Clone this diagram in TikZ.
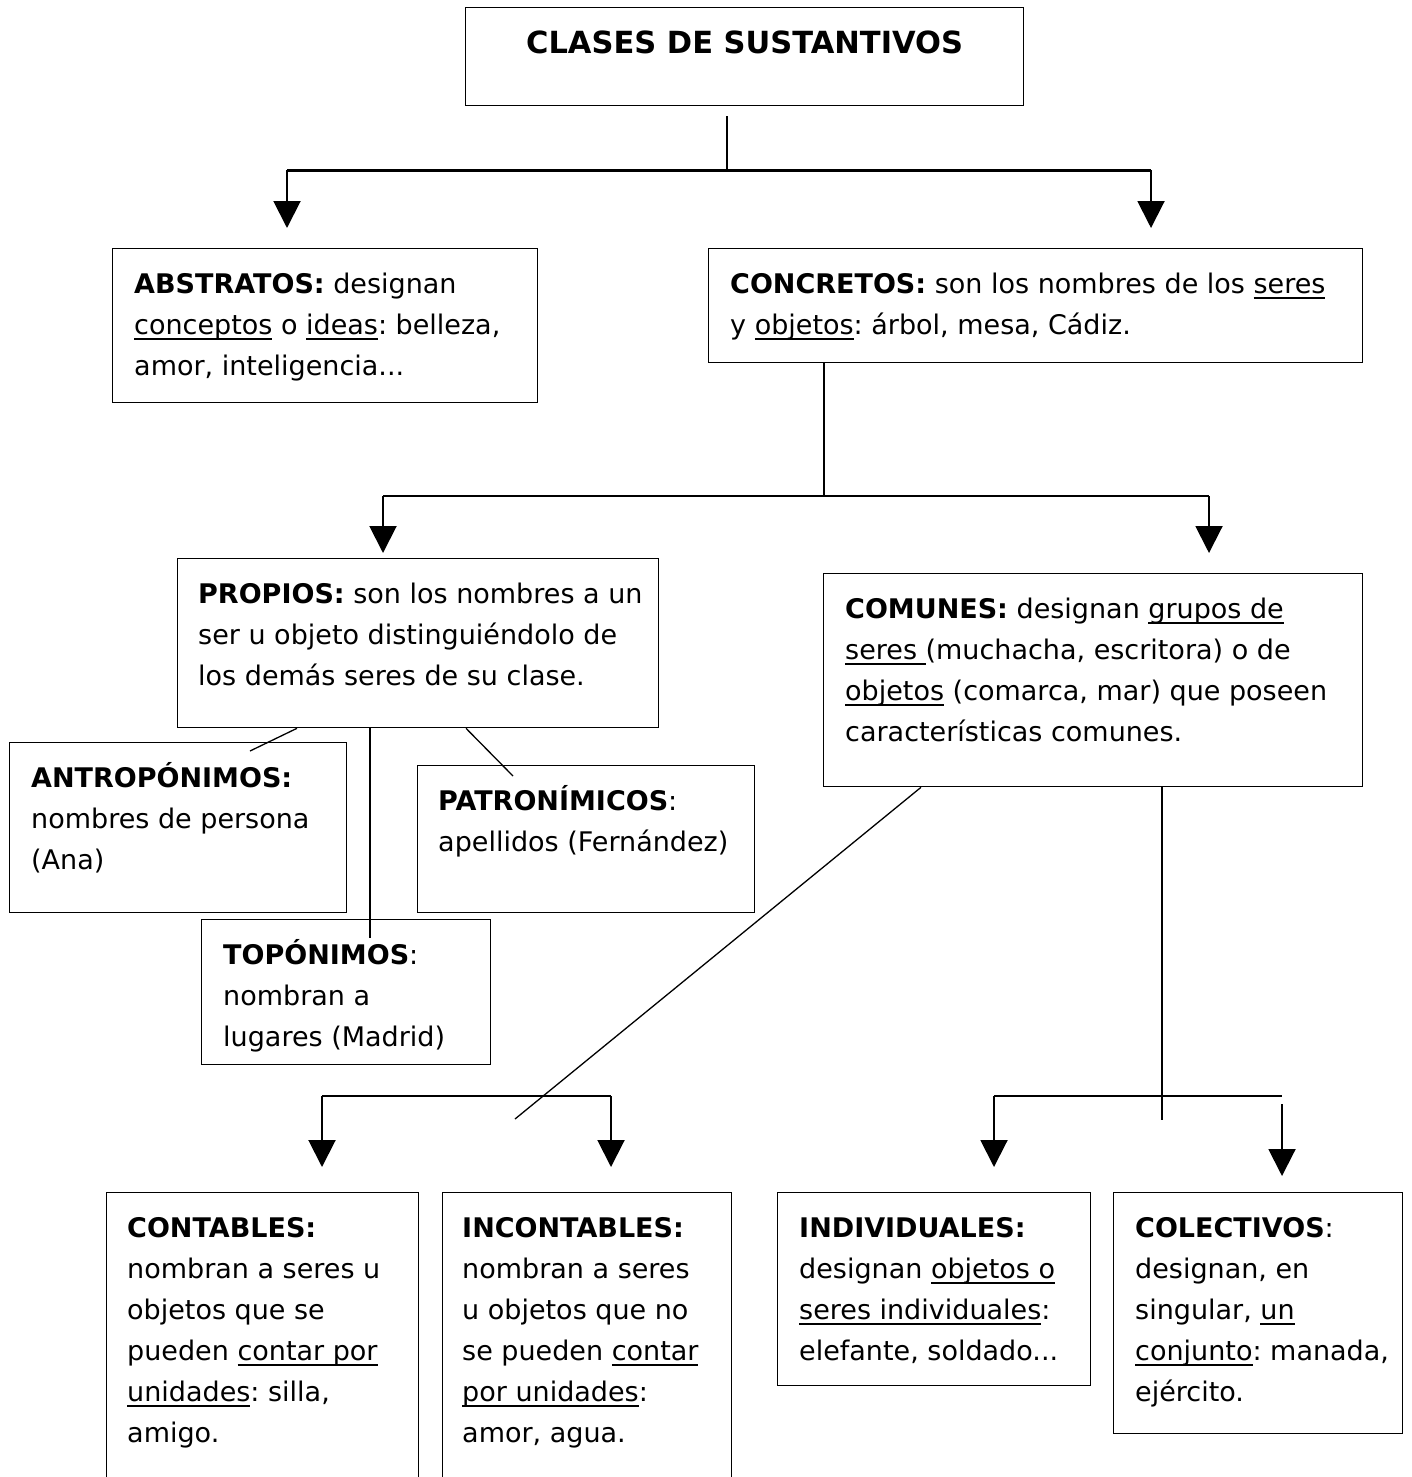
\documentclass[tikz,border=0pt]{standalone}
\usepackage{fontspec}
\setmainfont{DejaVu Sans}
\usetikzlibrary{arrows.meta}

\tikzset{
  caja/.style={draw, line width=1.3pt, anchor=north west, inner sep=0pt},
  texto/.style={anchor=north west, align=left, inner sep=0pt,
    font=\fontsize{27}{41}\selectfont\frenchspacing},
  linea/.style={line width=1.3pt},
  barra/.style={line width=2.2pt},
  flecha/.style={line width=2pt, -{Triangle[width=27pt,length=27pt]}},
}
% altura fija de la primera linea
\newcommand{\alto}{\rule{0pt}{29pt}}
% subrayado con grosor y distancia fijos
\newcommand{\subr}[1]{\setbox0=\hbox{#1}\rlap{\rule[-5pt]{\wd0}{1.3pt}}\box0\relax}

\begin{document}
\begin{tikzpicture}[x=1pt, y=-1pt]
\useasboundingbox (0,0) rectangle (1411,1477);
\clip (0,0) rectangle (1411,1477);

% cajas
\node[caja, minimum width=558pt, minimum height=98pt] (titulo) at (465,7) {};
\node[caja, minimum width=425pt, minimum height=154pt] (abstratos) at (112,248) {};
\node[caja, minimum width=654pt, minimum height=114pt] (concretos) at (708,248) {};
\node[caja, minimum width=481pt, minimum height=169pt] (propios) at (177,558) {};
\node[caja, minimum width=539pt, minimum height=213pt] (comunes) at (823,573) {};
\node[caja, minimum width=337pt, minimum height=170pt] (antro) at (9,742) {};
\node[caja, minimum width=337pt, minimum height=147pt] (patro) at (417,765) {};
\node[caja, minimum width=289pt, minimum height=145pt] (topo) at (201,919) {};
\node[caja, minimum width=312pt, minimum height=320pt] (contables) at (106,1192) {};
\node[caja, minimum width=289pt, minimum height=320pt] (incontables) at (442,1192) {};
\node[caja, minimum width=313pt, minimum height=193pt] (individuales) at (777,1192) {};
\node[caja, minimum width=289pt, minimum height=241pt] (colectivos) at (1113,1192) {};

% textos
\node[anchor=base, inner sep=0pt, font=\fontsize{30.5}{36}\selectfont\bfseries] (titulo-t)
  at ([yshift=-47pt]titulo.north) {CLASES DE SUSTANTIVOS};
\node[texto] (abstratos-t) at ([shift={(22pt,-16.3pt)}]abstratos.north west)
  {\alto\textbf{ABSTRATOS:} designan\\ \subr{conceptos} o \subr{ideas}: belleza,\\ amor, inteligencia...};
\node[texto] (concretos-t) at ([shift={(22pt,-16.3pt)}]concretos.north west)
  {\alto\textbf{CONCRETOS:} son los nombres de los \subr{seres}\\ y \subr{objetos}: árbol, mesa, Cádiz.};
\node[texto] (propios-t) at ([shift={(21pt,-16.3pt)}]propios.north west)
  {\alto\textbf{PROPIOS:} son los nombres a un\\ ser u objeto distinguiéndolo de\\ los demás seres de su clase.};
\node[texto] (comunes-t) at ([shift={(22pt,-16.3pt)}]comunes.north west)
  {\alto\textbf{COMUNES:} designan \subr{grupos de}\\ \subr{seres\ }(muchacha, escritora) o de\\
   \subr{objetos} (comarca, mar) que poseen\\ características comunes.};
\node[texto] (antro-t) at ([shift={(22pt,-16.3pt)}]antro.north west)
  {\alto\textbf{ANTROPÓNIMOS:}\\ nombres de persona\\ (Ana)};
\node[texto] (patro-t) at ([shift={(21pt,-16.3pt)}]patro.north west)
  {\alto\textbf{PATRONÍMICOS}:\\ apellidos (Fernández)};
\node[texto] (topo-t) at ([shift={(22pt,-16.3pt)}]topo.north west)
  {\alto\textbf{TOPÓNIMOS}:\\ nombran a\\ lugares (Madrid)};
\node[texto] (contables-t) at ([shift={(21pt,-16.3pt)}]contables.north west)
  {\alto\textbf{CONTABLES:}\\ nombran a seres u\\ objetos que se\\ pueden \subr{contar por}\\
   \subr{unidades}: silla,\\ amigo.};
\node[texto] (incontables-t) at ([shift={(20pt,-16.3pt)}]incontables.north west)
  {\alto\textbf{INCONTABLES:}\\ nombran a seres\\ u objetos que no\\ se pueden \subr{contar}\\
   \subr{por unidades}:\\ amor, agua.};
\node[texto] (individuales-t) at ([shift={(22pt,-16.3pt)}]individuales.north west)
  {\alto\textbf{INDIVIDUALES:}\\ designan \subr{objetos o}\\ \subr{seres individuales}:\\ elefante, soldado...};
\node[texto] (colectivos-t) at ([shift={(22pt,-16.3pt)}]colectivos.north west)
  {\alto\textbf{COLECTIVOS}:\\ designan, en\\ singular, \subr{un}\\ \subr{conjunto}: manada,\\ ejército.};

% puntos de union
\coordinate (b1) at (727,170);
\coordinate (b1-i) at (287,170);
\coordinate (b1-d) at (1151,170);
\coordinate (p-abs) at (287,228);
\coordinate (p-con) at (1151,228);
\coordinate (b2) at (824,496);
\coordinate (b2-i) at (383,496);
\coordinate (b2-d) at (1209,496);
\coordinate (p-pro) at (383,553);
\coordinate (p-com) at (1209,553);
\coordinate (e-antro) at (250,751);
\coordinate (e-topo) at (370,938);
\coordinate (e-patro) at (513,776);
\coordinate (e-diag) at (515,1119);
\coordinate (e-vert) at (1162,1120);
\coordinate (b3-i) at (322,1096);
\coordinate (b3-d) at (611,1096);
\coordinate (p-cont) at (322,1167);
\coordinate (p-inc) at (611,1167);
\coordinate (b4-i) at (994,1096);
\coordinate (b4-d) at (1282,1096);
\coordinate (b4-d2) at (1282,1104);
\coordinate (p-ind) at (994,1167);
\coordinate (p-col) at (1282,1176);

% conectores
\draw[linea] ([yshift=-10pt]b1 |- titulo.south) -- (b1);
\draw[barra, line width=3pt] (b1-i) -- (b1-d);
\draw[flecha] (b1-i) -- (p-abs);
\draw[flecha] (b1-d) -- (p-con);

\draw[linea] (b2 |- concretos.south) -- (b2);
\draw[barra] (b2-i) -- (b2-d);
\draw[flecha] (b2-i) -- (p-pro);
\draw[flecha] (b2-d) -- (p-com);

\draw[linea] ([xshift=120pt]propios.south west) -- (e-antro);
\draw[linea] (e-topo |- propios.south) -- (e-topo);
\draw[linea] ([xshift=289pt]propios.south west) -- (e-patro);

\draw[linea] ([xshift=98pt]comunes.south west) -- (e-diag);
\draw[linea, line width=1.8pt] (e-vert |- comunes.south) -- (e-vert);

\draw[barra] (b3-i) -- (b3-d);
\draw[flecha] (b3-i) -- (p-cont);
\draw[flecha] (b3-d) -- (p-inc);

\draw[barra] (b4-i) -- (b4-d);
\draw[flecha] (b4-i) -- (p-ind);
\draw[flecha] (b4-d2) -- (p-col);
\end{tikzpicture}
\end{document}
